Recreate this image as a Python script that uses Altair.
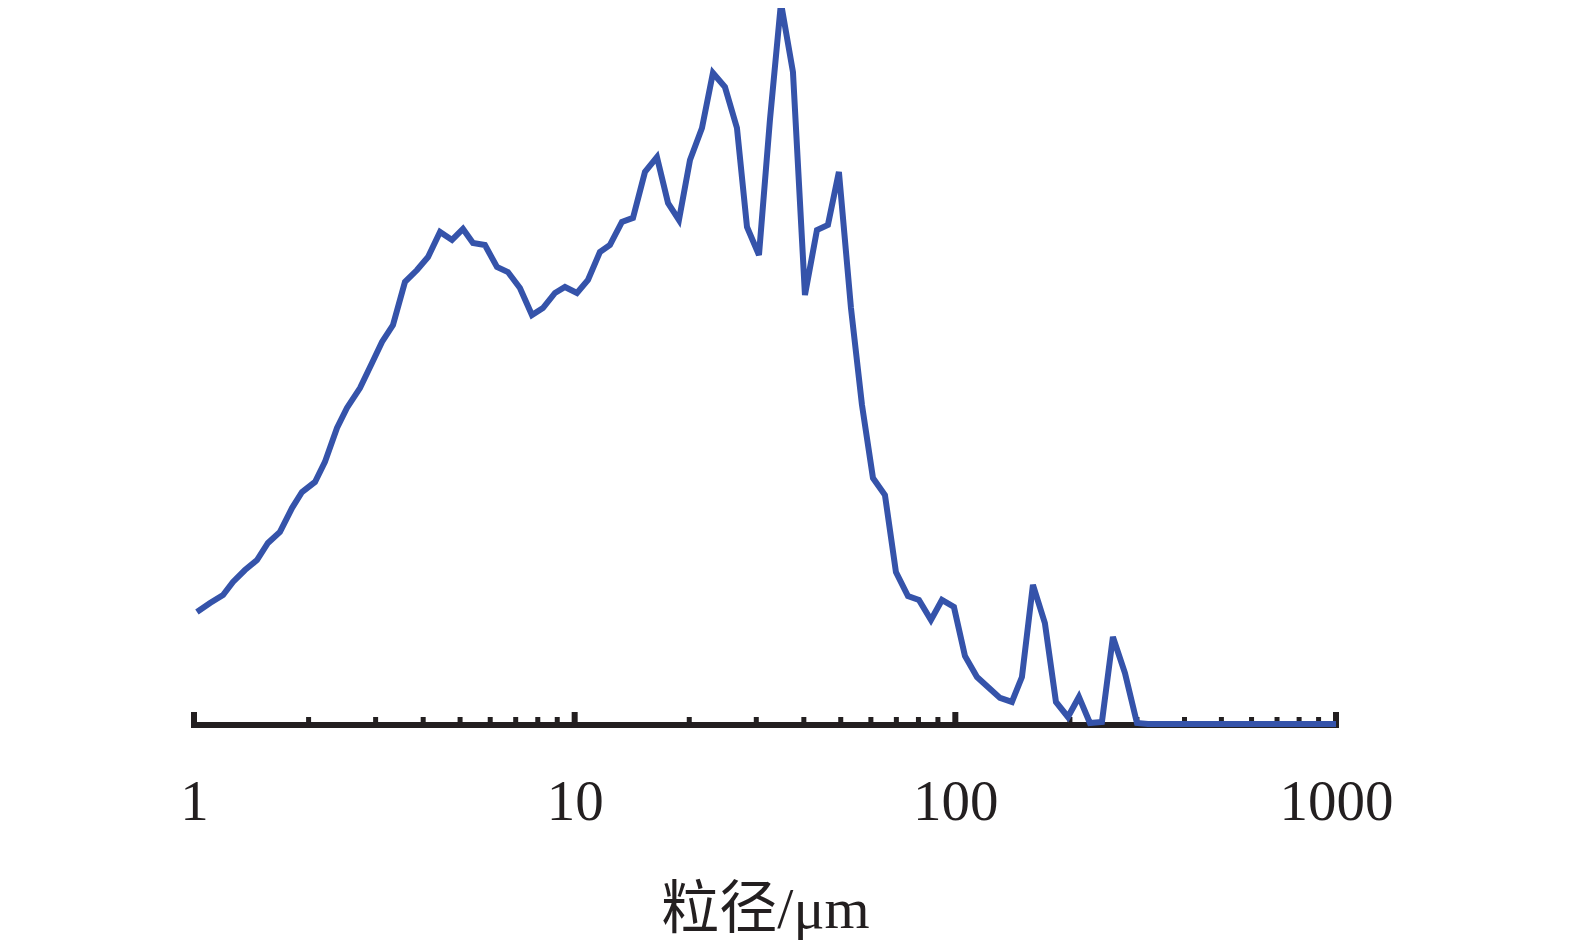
import altair as alt
import pandas as pd

# particle size (µm)
size_um = [1.018, 1.102, 1.192, 1.266, 1.361, 1.464, 1.564, 1.682, 1.809, 1.922,
           2.079, 2.208, 2.375, 2.522, 2.729, 2.935, 3.118, 3.332, 3.583, 3.853,
           4.119, 4.429, 4.762, 5.089, 5.406, 5.812, 6.250, 6.679, 7.182, 7.723,
           8.254, 8.877, 9.430, 10.14, 10.84, 11.65, 12.38, 13.31, 14.23, 15.30,
           16.45, 17.59, 18.79, 20.09, 21.60, 23.08, 24.82, 26.69, 28.36, 30.49,
           32.58, 34.83, 37.45, 40.27, 43.30, 46.27, 49.45, 53.19, 56.85, 60.76,
           65.33, 69.82, 75.09, 80.24, 86.29, 92.22, 99.16, 105.98, 114.0, 121.8,
           131.0, 140.8, 149.6, 159.9, 171.9, 183.8, 197.6, 211.2, 225.7, 242.7,
           259.4, 279.0, 300.0, 320.6, 344.7, 368.5, 396.2, 423.4, 455.2, 486.7,
           523.2, 559.3, 601.4, 646.5, 691.0, 743.0, 794.2, 853.9, 912.7, 1000.0]

# volume fraction (%)
volume = [0.782, 0.845, 0.901, 0.992, 1.075, 1.145, 1.264, 1.341, 1.508, 1.620,
          1.690, 1.830, 2.067, 2.207, 2.346, 2.521, 2.668, 2.786, 3.087, 3.170,
          3.261, 3.436, 3.380, 3.457, 3.359, 3.345, 3.191, 3.156, 3.045, 2.856,
          2.905, 3.010, 3.052, 3.010, 3.101, 3.296, 3.345, 3.506, 3.534, 3.855,
          3.959, 3.638, 3.520, 3.939, 4.162, 4.546, 4.448, 4.162, 3.471, 3.275,
          4.218, 5.035, 4.553, 2.996, 3.450, 3.485, 3.855, 2.905, 2.228, 1.718,
          1.599, 1.061, 0.894, 0.866, 0.726, 0.866, 0.817, 0.475, 0.328, 0.258,
          0.182, 0.154, 0.328, 0.971, 0.705, 0.154, 0.049, 0.189, 0.007, 0.014,
          0.608, 0.356, 0.007, 0.0, 0.0, 0.0, 0.0, 0.0, 0.0, 0.0,
          0.0, 0.0, 0.0, 0.0, 0.0, 0.0, 0.0, 0.0, 0.0, 0.0]

major_ticks = [1, 10, 100, 1000]
minor_ticks = [2, 3, 4, 5, 6, 7, 8, 9,
               20, 30, 40, 50, 60, 70, 80, 90,
               200, 300, 400, 500, 600, 700, 800, 900]
x_title = "粒径/μm"

INK = "#231f20"
BLUE = "#3553aa"
SERIF = "Liberation Serif, Times New Roman, Noto Sans CJK SC"

df = pd.DataFrame({"size": size_um, "vol": volume})
xscale = alt.Scale(type="log", domain=[1, 1000])
yscale = alt.Scale(domain=[0, 5])

x_axis = alt.Axis(
    values=major_ticks,
    format="d",
    domain=False,
    ticks=False,
    tickSize=0,
    grid=False,
    labelFont=SERIF,
    labelFontSize=57,
    labelColor=INK,
    labelBaseline="alphabetic",
    labelPadding=95,
    labelFlush=False,
    labelOverlap=False,
    title=x_title,
    titleFont=SERIF,
    titleFontSize=58,
    titleFontWeight="normal",
    titleColor=INK,
    titleBaseline="alphabetic",
    titleAlign="center",
    titleX=571,
    titleY=203,
)

axis_line = alt.Chart(pd.DataFrame({"a": [major_ticks[0]], "b": [major_ticks[-1]]})).mark_rule(
    color=INK, strokeWidth=6
).encode(
    x=alt.X("a:Q", scale=xscale, axis=x_axis),
    x2="b:Q",
    y=alt.value(717),
)

minor = alt.Chart(pd.DataFrame({"t": minor_ticks})).mark_rule(
    color=INK, strokeWidth=5
).encode(
    x=alt.X("t:Q", scale=xscale, axis=x_axis),
    y=alt.value(709),
    y2=alt.value(717),
)

major = alt.Chart(pd.DataFrame({"t": major_ticks})).mark_rule(
    color=INK, strokeWidth=6
).encode(
    x=alt.X("t:Q", scale=xscale, axis=x_axis),
    y=alt.value(704),
    y2=alt.value(720),
)

line = alt.Chart(df).mark_line(
    color=BLUE, strokeWidth=6, strokeJoin="miter", strokeCap="butt"
).encode(
    x=alt.X("size:Q", scale=xscale, axis=x_axis),
    y=alt.Y("vol:Q", scale=yscale, axis=None),
)

chart = alt.layer(axis_line, minor, major, line).properties(
    width=1142,
    height=716,
    autosize=alt.AutoSizeParams(type="none"),
    padding={"left": 186, "top": 0, "right": 80, "bottom": 220},
    background="white",
).configure_view(stroke=None)

chart.save("out.html", embed_options={"renderer": "svg", "actions": False})
